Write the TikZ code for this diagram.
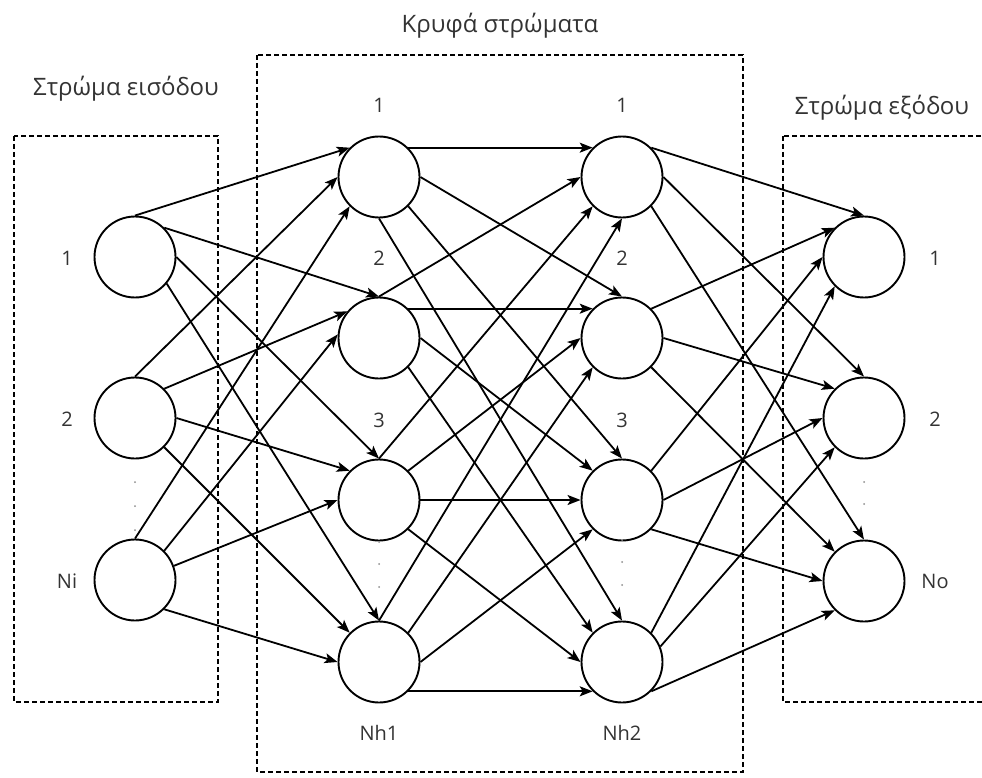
\documentclass[tikz,border=0pt]{standalone}
\usepackage{fontspec}
\setmainfont{Open Sans}
\usetikzlibrary{arrows.meta}

\tikzset{
  neuron/.style={circle, draw, line width=1.9pt, minimum size=81pt, inner sep=0pt, fill=white},
  layerbox/.style={draw, line width=1.6pt, dash pattern=on 5pt off 3pt},
  link/.style={line width=1.8pt, -{Stealth[length=13pt,width=10pt,inset=3pt]}},
  lbl/.style={font=\fontsize{20}{24}\selectfont, text=black!80, anchor=base, inner sep=0pt},
  title/.style={font=\fontsize{24}{28}\selectfont, text=black!80, anchor=base, inner sep=0pt},
  vdot/.style={circle, fill=black!45, inner sep=0pt, minimum size=2pt}
}

\begin{document}
\begin{tikzpicture}[x=1pt, y=-1pt]
  \useasboundingbox (0,0) rectangle (982,778);

  % layer frames
  \draw[layerbox] (14,136) rectangle (218,702);
  \draw[layerbox] (257,55) rectangle (743,772);
  \draw[layerbox] (783,136) rectangle (988,702);

  % layer titles
  \node[title] (tin)  at (126,96)  {Στρώμα εισόδου};
  \node[title] (thid) at (500,33)  {Κρυφά στρώματα};
  \node[title] (tout) at (882,115) {Στρώμα εξόδου};

  % input layer
  \node[neuron] (in1) at (135,257) {};
  \node[neuron] (in2) at (135,418) {};
  \node[neuron] (in3) at (135,580) {};
  % first hidden layer
  \node[neuron] (a1) at (379,177) {};
  \node[neuron] (a2) at (379,338) {};
  \node[neuron] (a3) at (379,500) {};
  \node[neuron] (a4) at (379,662) {};
  % second hidden layer
  \node[neuron] (b1) at (622,177) {};
  \node[neuron] (b2) at (622,338) {};
  \node[neuron] (b3) at (622,500) {};
  \node[neuron] (b4) at (622,662) {};
  % output layer
  \node[neuron] (o1) at (864,257) {};
  \node[neuron] (o2) at (864,418) {};
  \node[neuron] (o3) at (864,581) {};

  % neuron labels
  \node[lbl] (lin1) at (67,265) {1};
  \node[lbl] (lin2) at (67,426) {2};
  \node[lbl] (lin3) at (67,588) {Ni};
  \node[lbl] (la1) at (379,113) {1};
  \node[lbl] (la2) at (379,265) {2};
  \node[lbl] (la3) at (379,427) {3};
  \node[lbl] (la4) at (379,740) {Nh1};
  \node[lbl] (lb1) at (622,113) {1};
  \node[lbl] (lb2) at (622,265) {2};
  \node[lbl] (lb3) at (622,427) {3};
  \node[lbl] (lb4) at (622,740) {Nh2};
  \node[lbl] (lo1) at (935,265) {1};
  \node[lbl] (lo2) at (935,426) {2};
  \node[lbl] (lo3) at (935,588) {No};

  % ellipsis dots
  \foreach \y [count=\i] in {482,506,530} \node[vdot] (di\i) at (135,\y) {};
  \foreach \y [count=\i] in {542,564,587} \node[vdot] (da\i) at (379,\y) {};
  \foreach \y [count=\i] in {540,562,585} \node[vdot] (db\i) at (622,\y) {};
  \foreach \y [count=\i] in {482,504} \node[vdot] (do\i) at (864,\y) {};

  % input -> hidden 1
  \draw[link] (in1.90)  -- (a1.135);
  \draw[link] (in1.45)  -- (a2.90);
  \draw[link] (in1.0)   -- (a3.90);
  \draw[link] (in1.-40) -- (a4.90);
  \draw[link] (in2.90)  -- (a1.180);
  \draw[link] (in2.45)  -- (a2.140);
  \draw[link] (in2.0)   -- (a3.135);
  \draw[link] (in2.-45) -- (a4.135);
  \draw[link] (in3.90)  -- (a1.225);
  \draw[link] (in3.45)  -- (a2.175);
  \draw[link] (in3.20)  -- (a3.180);
  \draw[link] (in3.-45) -- (a4.180);

  % hidden 1 -> hidden 2
  \draw[link] (a1.45)  -- (b1.135);
  \draw[link] (a1.0)   -- (b2.90);
  \draw[link] (a1.-45) -- (b3.90);
  \draw[link] (a1.-90) -- (b4.90);
  \draw[link] (a2.90)  -- (b1.180);
  \draw[link] (a2.45)  -- (b2.135);
  \draw[link] (a2.0)   -- (b3.135);
  \draw[link] (a2.-45) -- (b4.135);
  \draw[link] (a3.90)  -- (b1.225);
  \draw[link] (a3.45)  -- (b2.180);
  \draw[link] (a3.0)   -- (b3.180);
  \draw[link] (a3.-45) -- (b4.180);
  \draw[link] (a4.90)  -- (b1.270);
  \draw[link] (a4.45)  -- (b2.225);
  \draw[link] (a4.0)   -- (b3.225);
  \draw[link] (a4.-45) -- (b4.225);

  % hidden 2 -> output
  \draw[link] (b1.45)  -- (o1.90);
  \draw[link] (b1.0)   -- (o2.90);
  \draw[link] (b1.-45) -- (o3.90);
  \draw[link] (b2.45)  -- (o1.135);
  \draw[link] (b2.0)   -- (o2.135);
  \draw[link] (b2.-45) -- (o3.135);
  \draw[link] (b3.45)  -- (o1.180);
  \draw[link] (b3.0)   -- (o2.180);
  \draw[link] (b3.-45) -- (o3.180);
  \draw[link] (b4.45)  -- (o1.225);
  \draw[link] (b4.22)  -- (o2.225);
  \draw[link] (b4.-45) -- (o3.225);
\end{tikzpicture}
\end{document}
